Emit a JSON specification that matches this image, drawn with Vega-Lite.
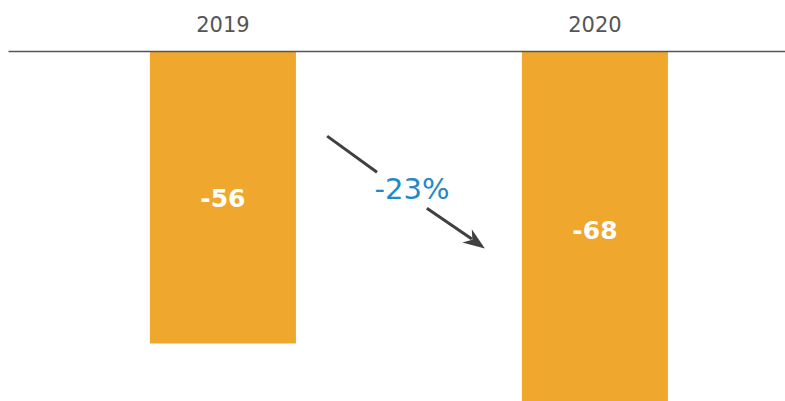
{
  "$schema": "https://vega.github.io/schema/vega-lite/v6.json",
  "autosize": "none",
  "width": 777,
  "height": 350,
  "padding": {"left": 8, "top": 51, "right": 0, "bottom": 0},
  "background": "white",
  "config": {"view": {"stroke": null}, "font": "DejaVu Sans"},
  "layer": [
    {
      "data": {"values": [{"year": "2019", "value": -56}, {"year": "2020", "value": -68}]},
      "encoding": {
        "x": {
          "field": "year", "type": "nominal",
          "scale": {"paddingInner": 0.6075, "paddingOuter": 0.348, "align": 0.548},
          "axis": {"orient": "top", "title": null, "ticks": false, "labelAngle": 0, "labelFontSize": 21, "labelColor": "#555555", "labelPadding": 16, "domainColor": "#555555", "domainWidth": 1.5, "labelFont": "DejaVu Sans", "zindex": 1}
        }
      },
      "layer": [
        {
          "mark": {"type": "bar", "color": "#EFA72E", "clip": true},
          "encoding": {"y": {"field": "value", "type": "quantitative", "scale": {"domain": [-67, 0], "nice": false, "zero": false}, "axis": null}}
        },
        {
          "transform": [{"calculate": "datum.value / 2", "as": "mid"}, {"calculate": "'' + datum.value", "as": "lbl"}],
          "mark": {"type": "text", "color": "white", "fontSize": 25, "fontWeight": "bold", "baseline": "middle", "dy": 2},
          "encoding": {
            "y": {"field": "mid", "type": "quantitative"},
            "text": {"field": "lbl", "type": "nominal"}
          }
        }
      ]
    },
    {
      "data": {"values": [
        {"kind": "seg", "x": 0.280, "y": -16.3, "x2": 0.414, "y2": -23.2},
        {"kind": "seg", "x": 0.548, "y": -30.1, "x2": 0.669, "y2": -36.0},
        {"kind": "head", "x": 0.680, "y": -36.6},
        {"kind": "label", "x": 0.508, "y": -26.6, "text": "-23%"}
      ]},
      "encoding": {
        "x": {"field": "x", "type": "quantitative", "scale": {"domain": [0, 1], "range": [215, 587]}, "axis": null}
      },
      "layer": [
        {
          "transform": [{"filter": "datum.kind === 'seg'"}],
          "mark": {"type": "rule", "color": "#404040", "strokeWidth": 3},
          "encoding": {
            "y": {"field": "y", "type": "quantitative"},
            "x2": {"field": "x2"},
            "y2": {"field": "y2"}
          }
        },
        {
          "transform": [{"filter": "datum.kind === 'head'"}],
          "mark": {"type": "point", "shape": "M1,0 L-1,-0.75 L-0.4,0 L-1,0.75 Z", "filled": true, "color": "#404040", "opacity": 1, "size": 480, "angle": 35.3},
          "encoding": {"y": {"field": "y", "type": "quantitative"}}
        },
        {
          "transform": [{"filter": "datum.kind === 'label'"}],
          "mark": {"type": "text", "color": "#2389C6", "fontSize": 29, "baseline": "middle"},
          "encoding": {
            "y": {"field": "y", "type": "quantitative"},
            "text": {"field": "text"}
          }
        }
      ]
    }
  ],
  "resolve": {"scale": {"x": "independent"}}
}
